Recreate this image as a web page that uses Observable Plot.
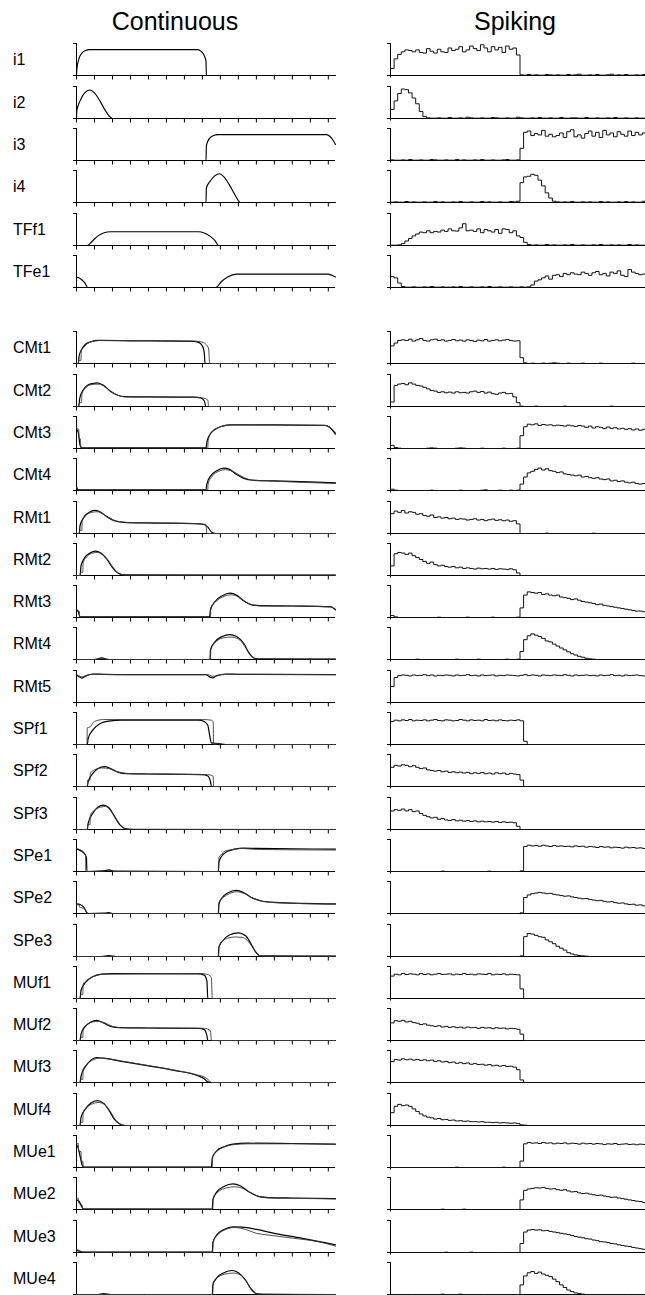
<!DOCTYPE html>
<html><head><meta charset="utf-8">
<script src="https://cdn.jsdelivr.net/npm/d3@7"></script>
<script src="https://cdn.jsdelivr.net/npm/@observablehq/plot@0.6"></script>
<style>
html,body{margin:0;padding:0;background:#fff;}
#fig{position:relative;width:645px;height:1295px;overflow:hidden;font-family:"Liberation Sans",Arial,Helvetica,sans-serif;color:#000;background:#fff}
.title{position:absolute;font-size:25px;line-height:1;text-align:center;width:200px;white-space:nowrap}
.lab{position:absolute;font-size:16px;line-height:1;left:13px;white-space:nowrap}
#fig svg{position:absolute;background:transparent;max-width:none}
</style></head><body><div id="fig"></div>
<script>
// ---------- labels & ticks ----------
const columnTitles = ["Continuous", "Spiking"];
const inputLabels = ["i1","i2","i3","i4","TFf1","TFe1"];
const outputLabels = ["CMt1","CMt2","CMt3","CMt4","RMt1","RMt2","RMt3","RMt4","RMt5","SPf1","SPf2","SPf3","SPe1","SPe2","SPe3","MUf1","MUf2","MUf3","MUf4","MUe1","MUe2","MUe3","MUe4"];
const xTicks = [0,1,2,3,4,5,6,7,8,9,10,11,12,13,14];
const tMax = 14.4;
const binWidth = 0.2;

// ---------- continuous inputs: [time, value] ----------
const c_i1 = [[0,0],[0.02,0.2],[0.15,0.55],[0.3,0.7],[0.5,0.78],[0.7,0.81],[6.7,0.81],[6.9,0.77],[7.05,0.68],[7.15,0.55],[7.2,0.45],[7.22,0],[14.4,0]];
const c_i2 = [[0,0],[0.02,0.25],[0.2,0.55],[0.45,0.8],[0.74,0.89],[1.0,0.8],[1.3,0.55],[1.6,0.25],[1.85,0.06],[2.0,0],[14.4,0]];
const c_i3 = [[0,0],[7.2,0],[7.22,0.45],[7.3,0.6],[7.45,0.72],[7.65,0.79],[7.85,0.81],[13.9,0.81],[14.1,0.75],[14.3,0.6],[14.4,0.5]];
const c_i4 = [[0,0],[7.2,0],[7.22,0.45],[7.45,0.68],[7.7,0.84],[7.94,0.9],[8.2,0.8],[8.5,0.55],[8.8,0.25],[9.0,0.06],[9.1,0],[14.4,0]];
const c_TFf1 = [[0,0],[0.6,0],[0.9,0.15],[1.2,0.3],[1.5,0.39],[1.9,0.43],[6.8,0.43],[7.1,0.39],[7.4,0.3],[7.7,0.15],[7.9,0],[14.4,0]];
const c_TFe1 = [[0,0.32],[0.2,0.28],[0.45,0.15],[0.63,0],[7.75,0],[8.05,0.18],[8.4,0.33],[8.9,0.42],[14.0,0.42],[14.2,0.38],[14.4,0.33]];

// ---------- continuous outputs: two traces each ----------
const cA_CMt1 = [[0,0],[0.1,0],[0.15,0.25],[0.3,0.45],[0.5,0.6],[0.8,0.68],[1.2,0.72],[3,0.71],[6.5,0.69],[6.8,0.66],[7.0,0.55],[7.1,0.35],[7.15,0],[14.4,0]];
const cB_CMt1 = [[0,0],[0.1,0],[0.12,0.1],[0.25,0.1],[0.27,0.42],[0.4,0.5],[0.6,0.62],[1.0,0.7],[1.4,0.72],[6.5,0.7],[6.9,0.68],[7.2,0.6],[7.35,0.45],[7.4,0],[14.4,0]];
const cA_CMt2 = [[0,0],[0.12,0],[0.18,0.25],[0.35,0.5],[0.6,0.66],[0.9,0.72],[1.15,0.74],[1.5,0.66],[1.9,0.47],[2.3,0.35],[2.7,0.31],[4,0.3],[6.5,0.29],[6.9,0.27],[7.1,0.18],[7.2,0],[14.4,0]];
const cB_CMt2 = [[0,0],[0.12,0],[0.14,0.12],[0.28,0.12],[0.3,0.4],[0.5,0.58],[0.8,0.68],[1.2,0.7],[1.5,0.66],[1.9,0.48],[2.3,0.35],[2.7,0.3],[4,0.3],[6.5,0.29],[7.0,0.27],[7.3,0.2],[7.35,0],[14.4,0]];
const cA_CMt3 = [[0,0.6],[0.1,0.5],[0.2,0.1],[0.3,0.02],[7.2,0.02],[7.25,0.2],[7.4,0.42],[7.7,0.6],[8.1,0.7],[8.6,0.74],[10,0.74],[13.8,0.72],[14.1,0.65],[14.4,0.45]];
const cB_CMt3 = [[0,0.65],[0.12,0.6],[0.14,0.3],[0.22,0.3],[0.24,0.02],[7.3,0.02],[7.32,0.25],[7.5,0.5],[7.8,0.62],[8.3,0.72],[8.8,0.74],[13.8,0.72],[14.1,0.66],[14.4,0.5]];
const cA_CMt4 = [[0,0.12],[0.1,0.02],[7.2,0.02],[7.25,0.2],[7.45,0.45],[7.8,0.62],[8.2,0.7],[8.5,0.66],[8.9,0.5],[9.3,0.38],[9.8,0.32],[11,0.3],[14.4,0.24]];
const cB_CMt4 = [[0,0.1],[0.12,0.02],[7.3,0.02],[7.32,0.22],[7.55,0.45],[7.9,0.6],[8.3,0.65],[8.6,0.62],[9.0,0.5],[9.4,0.38],[9.9,0.32],[11,0.29],[14.4,0.22]];
const cA_RMt1 = [[0,0],[0.15,0],[0.2,0.25],[0.4,0.5],[0.7,0.66],[1.0,0.72],[1.3,0.68],[1.7,0.52],[2.1,0.4],[2.6,0.35],[4,0.33],[6.5,0.31],[7.0,0.29],[7.3,0.2],[7.5,0.05],[7.8,0],[14.4,0]];
const cB_RMt1 = [[0,0],[0.15,0],[0.17,0.1],[0.3,0.1],[0.32,0.4],[0.55,0.58],[0.85,0.66],[1.15,0.68],[1.5,0.6],[1.9,0.46],[2.4,0.37],[3,0.34],[6.8,0.31],[7.2,0.28],[7.25,0],[14.4,0]];
const cA_RMt2 = [[0,0],[0.2,0],[0.25,0.3],[0.45,0.55],[0.75,0.7],[1.05,0.76],[1.35,0.7],[1.7,0.5],[2.0,0.25],[2.3,0.08],[2.6,0.02],[14.4,0.01]];
const cB_RMt2 = [[0,0],[0.2,0],[0.22,0.1],[0.35,0.1],[0.37,0.4],[0.6,0.6],[0.9,0.7],[1.15,0.72],[1.45,0.66],[1.8,0.45],[2.1,0.2],[2.4,0.05],[2.7,0.01],[14.4,0.01]];
const cA_RMt3 = [[0,0.25],[0.1,0.18],[0.2,0.02],[7.4,0.02],[7.45,0.25],[7.7,0.5],[8.1,0.68],[8.55,0.76],[8.9,0.7],[9.3,0.52],[9.7,0.4],[10.2,0.37],[12,0.36],[14.1,0.34],[14.4,0.24]];
const cB_RMt3 = [[0,0.2],[0.15,0.2],[0.17,0.02],[7.45,0.02],[7.47,0.3],[7.8,0.52],[8.2,0.66],[8.6,0.71],[9.0,0.64],[9.4,0.48],[9.8,0.39],[10.3,0.36],[12,0.36],[14.1,0.33],[14.4,0.26]];
const cA_RMt4 = [[0,0],[1.0,0],[1.4,0.05],[1.8,0],[7.42,0],[7.45,0.3],[7.7,0.55],[8.1,0.72],[8.5,0.78],[8.9,0.72],[9.3,0.5],[9.6,0.2],[9.9,0.04],[10.3,0.01],[14.4,0.01]];
const cB_RMt4 = [[0,0],[1.0,0],[1.4,0.03],[1.8,0],[7.45,0],[7.47,0.35],[7.8,0.58],[8.2,0.68],[8.6,0.7],[9.0,0.64],[9.35,0.42],[9.65,0.15],[9.95,0.03],[14.4,0.01]];
const cA_RMt5 = [[0,0.86],[0.1,0.82],[0.3,0.76],[0.5,0.82],[0.9,0.89],[1.5,0.88],[3,0.87],[7.2,0.87],[7.4,0.8],[7.55,0.77],[7.8,0.84],[8.3,0.89],[9,0.88],[14.4,0.87]];
const cB_RMt5 = [[0,0.88],[0.1,0.85],[0.3,0.8],[0.5,0.84],[0.9,0.88],[3,0.87],[7.3,0.87],[7.5,0.83],[7.7,0.82],[8.0,0.86],[8.5,0.88],[14.4,0.87]];
const cA_SPf1 = [[0,0],[0.6,0],[0.65,0.2],[0.9,0.45],[1.3,0.65],[1.8,0.73],[2.5,0.76],[6.8,0.76],[7.1,0.72],[7.3,0.6],[7.4,0.3],[7.5,0.05],[7.9,0.03],[8.2,0],[14.4,0]];
const cB_SPf1 = [[0,0],[0.58,0],[0.6,0.52],[0.75,0.55],[1.0,0.72],[1.5,0.78],[7.0,0.78],[7.5,0.76],[7.6,0.7],[7.62,0],[7.9,0.04],[8.3,0],[14.4,0]];
const cA_SPf2 = [[0,0],[0.6,0],[0.65,0.15],[0.9,0.4],[1.2,0.56],[1.55,0.62],[1.9,0.56],[2.3,0.45],[2.8,0.4],[4,0.39],[7.0,0.37],[7.3,0.33],[7.45,0.15],[7.5,0],[14.4,0]];
const cB_SPf2 = [[0,0],[0.6,0],[0.62,0.2],[0.75,0.2],[0.77,0.42],[1.0,0.52],[1.4,0.58],[1.8,0.56],[2.2,0.47],[2.7,0.41],[4,0.39],[7.3,0.37],[7.6,0.32],[7.62,0],[14.4,0]];
const cA_SPf3 = [[0,0],[0.6,0],[0.65,0.2],[0.9,0.5],[1.2,0.7],[1.5,0.76],[1.8,0.68],[2.1,0.42],[2.4,0.15],[2.7,0.03],[3.2,0],[14.4,0]];
const cB_SPf3 = [[0,0],[0.6,0],[0.62,0.15],[0.75,0.15],[0.77,0.45],[1.0,0.6],[1.35,0.7],[1.6,0.72],[1.9,0.6],[2.2,0.35],[2.5,0.1],[2.8,0.01],[14.4,0]];
const cA_SPe1 = [[0,0.7],[0.2,0.66],[0.4,0.58],[0.55,0.45],[0.58,0],[1.5,0.02],[1.8,0.05],[2.1,0.01],[7.88,0],[7.92,0.3],[8.1,0.5],[8.4,0.63],[8.8,0.7],[9.3,0.73],[10,0.72],[14.4,0.7]];
const cB_SPe1 = [[0,0.72],[0.2,0.68],[0.4,0.6],[0.5,0.5],[0.52,0],[1.5,0.01],[1.8,0.04],[2.1,0],[7.9,0],[7.92,0.45],[8.1,0.55],[8.2,0.62],[8.6,0.68],[9.2,0.72],[10,0.69],[14.4,0.67]];
const cA_SPe2 = [[0,0.3],[0.2,0.28],[0.4,0.2],[0.55,0.05],[0.6,0],[1.6,0.01],[1.8,0.03],[2.0,0],[7.88,0],[7.92,0.3],[8.1,0.5],[8.4,0.64],[8.9,0.72],[9.3,0.65],[9.8,0.48],[10.3,0.39],[11,0.35],[14.4,0.3]];
const cB_SPe2 = [[0,0.27],[0.15,0.27],[0.17,0.2],[0.45,0.15],[0.6,0.02],[0.7,0],[7.9,0],[7.92,0.35],[8.2,0.52],[8.5,0.62],[8.9,0.68],[9.3,0.63],[9.8,0.48],[10.3,0.38],[11,0.34],[14.4,0.29]];
const cA_SPe3 = [[0,0],[1.4,0],[1.8,0.03],[2.2,0],[7.88,0],[7.92,0.3],[8.15,0.5],[8.5,0.67],[9.0,0.74],[9.4,0.65],[9.7,0.4],[9.95,0.15],[10.2,0.02],[14.4,0.01]];
const cB_SPe3 = [[0,0],[7.9,0],[7.92,0.3],[8.1,0.48],[8.4,0.57],[8.8,0.61],[9.2,0.6],[9.5,0.5],[9.8,0.28],[10.05,0.08],[10.3,0.01],[14.4,0.01]];
const cA_MUf1 = [[0,0],[0.2,0],[0.25,0.25],[0.5,0.5],[0.9,0.68],[1.4,0.76],[2,0.78],[6.8,0.77],[7.1,0.73],[7.25,0.55],[7.3,0],[14.4,0]];
const cB_MUf1 = [[0,0],[0.2,0],[0.22,0.12],[0.35,0.12],[0.37,0.45],[0.6,0.58],[1.0,0.7],[1.5,0.76],[6.9,0.78],[7.3,0.75],[7.5,0.65],[7.55,0],[14.4,0]];
const cA_MUf2 = [[0,0],[0.2,0],[0.25,0.2],[0.5,0.45],[0.8,0.58],[1.1,0.63],[1.5,0.55],[1.9,0.44],[2.4,0.4],[4,0.39],[6.8,0.38],[7.1,0.34],[7.25,0.15],[7.3,0],[14.4,0]];
const cB_MUf2 = [[0,0],[0.2,0],[0.22,0.1],[0.35,0.1],[0.37,0.38],[0.6,0.5],[0.9,0.58],[1.2,0.6],[1.6,0.54],[2.0,0.44],[2.5,0.4],[4,0.39],[7.1,0.38],[7.45,0.3],[7.5,0],[14.4,0]];
const cA_MUf3 = [[0,0],[0.2,0],[0.25,0.2],[0.5,0.5],[0.8,0.7],[1.1,0.78],[1.5,0.76],[2.5,0.66],[4,0.52],[5.5,0.37],[6.7,0.22],[7.1,0.12],[7.3,0.02],[7.5,0],[14.4,0]];
const cB_MUf3 = [[0,0],[0.2,0],[0.22,0.1],[0.35,0.1],[0.37,0.4],[0.6,0.58],[0.9,0.7],[1.3,0.76],[1.8,0.74],[2.5,0.67],[4,0.53],[5.5,0.38],[6.7,0.24],[7.2,0.14],[7.4,0.05],[7.5,0],[14.4,0]];
const cA_MUf4 = [[0,0],[0.2,0],[0.25,0.25],[0.5,0.52],[0.8,0.7],[1.15,0.78],[1.5,0.7],[1.8,0.48],[2.1,0.2],[2.4,0.05],[2.7,0],[14.4,0]];
const cB_MUf4 = [[0,0],[0.2,0],[0.22,0.1],[0.35,0.1],[0.37,0.42],[0.6,0.58],[0.9,0.68],[1.2,0.72],[1.55,0.66],[1.9,0.42],[2.2,0.15],[2.5,0.03],[2.8,0],[14.4,0]];
const cA_MUe1 = [[0,0.72],[0.1,0.6],[0.2,0.35],[0.3,0.1],[0.4,0.01],[7.5,0.01],[7.55,0.3],[7.8,0.52],[8.2,0.65],[8.7,0.73],[9.5,0.76],[12,0.75],[14.4,0.73]];
const cB_MUe1 = [[0,0.75],[0.1,0.75],[0.12,0.5],[0.25,0.5],[0.27,0.2],[0.35,0.2],[0.37,0.01],[7.55,0.01],[7.57,0.35],[7.9,0.55],[8.3,0.66],[8.8,0.72],[9.6,0.74],[12,0.74],[14.4,0.72]];
const cA_MUe2 = [[0,0.3],[0.15,0.25],[0.3,0.08],[0.4,0.01],[7.55,0.01],[7.58,0.3],[7.8,0.55],[8.2,0.72],[8.7,0.8],[9.1,0.74],[9.6,0.55],[10.1,0.41],[10.7,0.37],[12,0.36],[14.4,0.34]];
const cB_MUe2 = [[0,0.35],[0.1,0.35],[0.12,0.2],[0.3,0.15],[0.35,0.02],[7.57,0.01],[7.6,0.35],[7.9,0.56],[8.3,0.67],[8.8,0.71],[9.2,0.67],[9.7,0.52],[10.2,0.4],[10.8,0.36],[12,0.35],[14.4,0.33]];
const cA_MUe3 = [[0,0.08],[0.2,0.03],[0.4,0.01],[7.55,0.01],[7.58,0.3],[7.8,0.55],[8.2,0.72],[8.7,0.8],[9.2,0.79],[10,0.72],[11,0.6],[12.5,0.45],[14.4,0.24]];
const cB_MUe3 = [[0,0.1],[0.2,0.05],[0.4,0.01],[7.57,0.01],[7.6,0.35],[7.9,0.58],[8.3,0.72],[8.8,0.78],[9.4,0.72],[10,0.6],[10.6,0.55],[12,0.45],[13.5,0.33],[14.4,0.2]];
const cA_MUe4 = [[0,0],[1.2,0],[1.5,0.03],[1.9,0],[7.55,0],[7.58,0.3],[7.8,0.52],[8.2,0.68],[8.65,0.75],[9.0,0.68],[9.4,0.45],[9.7,0.18],[10.0,0.03],[10.4,0],[14.4,0]];
const cB_MUe4 = [[0,0],[7.57,0],[7.6,0.38],[7.9,0.56],[8.3,0.64],[8.7,0.67],[9.1,0.62],[9.45,0.4],[9.75,0.12],[10.05,0.02],[14.4,0]];

// ---------- spiking histograms: 72 bins of 0.2 (percent of full scale) ----------
const s_i1 = [22,52,66,74,80,78,74,80,72,70,84,76,70,82,74,72,86,78,82,90,74,80,92,84,78,96,86,74,90,80,88,72,92,82,86,64,2,1,3,1,2,1,1,3,2,1,2,1,1,3,1,2,4,1,1,2,1,3,1,1,2,4,1,2,1,3,1,1,2,1,3,1];
const s_i2 = [28,55,78,92,90,80,64,46,22,6,2,1,1,2,1,1,3,1,1,2,1,4,2,1,1,2,1,1,3,2,1,1,2,1,1,4,2,1,1,2,1,3,1,1,2,1,1,3,1,1,2,2,1,1,3,1,1,2,1,1,2,1,3,1,1,2,1,1,2,1,1,2];
const s_i3 = [2,1,1,2,1,3,1,1,2,1,1,3,2,1,1,2,1,1,3,1,2,1,1,2,1,3,1,1,2,1,1,2,3,1,1,2,38,88,92,78,84,80,94,76,82,74,78,86,72,90,96,74,80,70,84,92,76,88,72,94,80,86,74,90,82,76,92,78,88,80,86,76];
const s_i4 = [1,2,1,1,3,1,2,1,1,2,1,1,3,1,2,1,1,2,1,3,1,1,2,1,1,3,1,2,1,1,2,1,1,3,2,4,62,80,82,88,85,70,52,30,14,4,2,1,2,1,3,1,1,2,1,2,1,1,3,1,2,1,1,2,1,3,1,2,1,1,4,2];
const s_TFf1 = [1,1,2,6,14,22,30,36,42,40,46,40,44,42,48,44,52,46,45,55,68,46,48,44,52,40,50,46,42,50,38,52,50,40,46,30,25,10,3,1,2,1,1,3,1,2,1,1,2,1,3,1,1,2,1,1,2,1,3,1,1,2,1,2,1,1,3,1,2,1,1,2];
const s_TFe1 = [34,30,14,3,1,1,2,1,1,2,1,3,1,1,2,1,1,2,1,3,1,1,2,1,1,2,1,3,1,1,2,1,1,2,1,1,2,1,2,8,20,24,30,36,26,38,40,34,44,40,46,42,40,48,44,38,46,50,40,44,36,48,44,52,38,34,56,48,44,40,42,36];
const s_CMt1 = [55,64,72,74,72,76,70,74,78,72,70,74,76,72,74,70,72,75,71,73,70,74,72,69,73,71,75,70,72,74,71,73,75,72,70,71,18,2,0,1,0,0,1,0,1,2,1,0,0,1,0,0,0,1,0,0,0,0,1,0,0,0,0,0,0,0,0,1,0,0,0,0];
const s_CMt2 = [14,66,70,72,68,74,70,66,64,60,55,50,48,44,46,43,45,42,46,43,44,42,46,48,44,47,42,45,40,38,42,44,40,41,30,12,1,0,0,0,1,0,0,0,0,0,0,0,1,0,0,0,0,0,0,0,0,0,0,0,0,1,0,0,0,0,0,0,0,0,0,0];
const s_CMt3 = [10,3,1,0,0,0,0,0,0,0,1,2,1,0,0,0,0,0,1,2,1,0,0,0,0,1,0,0,0,0,0,1,0,0,0,1,40,68,76,74,77,72,75,73,74,71,73,72,70,73,71,69,72,70,66,70,64,68,66,62,67,63,65,61,63,60,62,58,61,57,60,55];
const s_CMt4 = [4,1,0,0,0,0,0,0,0,0,0,1,0,0,0,0,0,0,0,1,0,0,0,0,0,1,2,0,0,0,1,0,0,1,0,1,20,42,55,60,66,70,64,68,62,60,56,58,52,50,48,46,48,42,44,40,38,40,36,34,36,30,32,28,30,26,24,26,22,20,22,18];
const s_RMt1 = [62,70,66,72,64,68,66,60,62,56,54,58,50,52,48,50,46,48,44,46,45,42,44,46,42,44,40,43,45,41,43,40,42,38,40,30,0,0,0,0,0,0,0,1,0,0,0,0,0,0,0,0,0,0,0,0,1,0,0,0,0,0,0,0,0,0,0,0,0,0,0,0];
const s_RMt2 = [30,68,72,70,66,70,62,56,50,44,38,42,34,30,32,28,26,28,24,26,22,24,22,20,23,21,22,20,22,19,21,20,19,21,18,8,0,0,0,0,0,0,0,0,0,0,0,0,0,0,0,0,0,0,0,0,0,0,0,0,0,0,0,0,0,0,0,0,0,0,0,0];
const s_RMt3 = [6,2,0,0,0,0,0,0,0,0,0,0,0,1,0,0,0,0,0,0,0,1,0,0,0,0,0,0,1,0,0,0,0,0,0,1,30,70,80,78,76,78,72,74,70,68,70,64,62,60,56,58,54,50,48,46,44,40,42,38,36,34,32,30,28,26,24,22,20,20,18,16];
const s_RMt4 = [0,0,0,0,0,0,0,1,0,0,0,0,0,0,0,0,0,0,1,0,0,0,0,0,1,0,0,0,0,0,0,0,1,0,0,1,25,62,74,80,76,72,66,58,55,48,42,36,30,24,18,14,10,7,4,2,1,0,0,0,0,0,0,0,0,0,0,0,0,0,0,0];
const s_RMt5 = [50,78,84,86,85,83,86,84,85,87,84,86,83,85,84,86,85,83,86,84,85,87,84,85,83,86,84,85,86,83,85,84,86,85,84,83,85,87,84,86,85,83,86,85,84,86,85,84,87,85,83,86,84,85,86,84,85,83,86,84,85,87,84,85,83,86,84,85,86,84,83,85];
const s_SPf1 = [72,76,74,77,75,78,74,76,75,77,74,76,78,75,74,77,76,74,75,78,76,74,77,75,76,74,78,75,76,74,77,75,74,76,75,77,74,10,0,0,0,0,0,0,0,0,0,0,0,0,0,0,0,0,0,0,0,0,0,0,0,0,0,0,0,0,0,0,0,0,0,0];
const s_SPf2 = [60,66,64,68,66,62,65,60,56,58,52,50,48,50,46,48,44,46,43,45,42,44,40,43,41,44,40,42,39,43,40,42,38,41,39,37,20,0,0,0,0,0,0,0,0,0,0,0,0,0,0,0,0,0,0,0,0,0,0,0,0,0,0,0,0,0,0,0,0,0,0,0];
const s_SPf3 = [58,62,60,64,58,62,56,58,50,44,40,36,38,32,34,30,28,31,27,29,26,28,25,27,24,26,24,25,23,25,22,24,22,23,21,10,0,0,0,0,0,0,0,0,0,0,0,0,0,0,0,0,0,0,0,0,0,0,0,0,0,0,0,0,0,0,0,0,0,0,0,0];
const s_SPe1 = [0,0,0,0,0,0,0,0,0,0,0,0,0,0,1,0,0,0,0,0,0,0,0,0,0,0,0,1,0,0,0,0,0,0,0,0,2,78,82,80,81,79,82,80,78,81,79,80,78,79,77,80,78,79,76,78,77,75,78,76,77,74,76,75,73,76,74,75,73,74,72,73];
const s_SPe2 = [0,0,0,0,0,0,0,0,0,0,0,0,0,0,0,0,0,0,0,0,0,0,0,0,0,0,0,0,0,0,0,0,0,0,0,0,2,50,58,62,64,66,64,62,63,60,58,56,54,55,52,50,48,46,47,44,42,40,41,38,36,37,34,32,33,30,28,29,26,27,24,22];
const s_SPe3 = [0,0,0,0,0,0,0,0,0,0,0,0,0,0,0,0,0,0,0,0,0,0,0,0,0,0,0,0,0,0,0,0,0,0,0,0,2,62,72,70,66,62,60,52,46,40,32,26,20,12,8,5,3,2,1,0,0,0,0,0,0,0,0,0,0,0,0,0,0,0,0,0];
const s_MUf1 = [70,76,74,78,75,77,76,74,78,75,77,74,76,78,75,76,77,74,76,75,78,75,76,74,77,76,75,78,74,76,75,77,74,76,75,74,30,0,0,0,0,0,0,0,0,0,0,0,0,0,0,0,0,0,0,0,0,0,0,0,0,0,0,0,0,0,0,0,0,0,0,0];
const s_MUf2 = [55,62,60,63,58,60,56,54,50,52,48,46,44,46,42,44,41,43,40,42,39,42,40,41,38,41,39,40,37,40,38,39,36,38,37,35,20,0,0,0,0,0,0,0,0,0,0,0,0,0,0,0,0,0,0,0,0,0,0,0,0,0,0,0,0,0,0,0,0,0,0,0];
const s_MUf3 = [65,72,70,74,71,73,70,72,69,71,68,70,66,68,64,66,62,64,60,62,59,61,57,59,56,57,54,56,52,54,51,53,50,51,48,40,8,0,0,0,0,0,0,0,0,0,0,0,0,0,0,0,0,0,0,0,0,0,0,0,0,0,0,0,0,0,0,0,0,0,0,0];
const s_MUf4 = [40,60,66,62,64,60,52,44,36,30,26,24,20,22,18,19,16,17,14,15,13,14,12,12,11,12,10,10,9,10,8,9,8,7,8,6,2,1,0,0,0,0,0,0,0,0,0,0,0,0,0,0,0,0,0,0,0,0,0,0,0,0,0,0,0,0,0,0,0,0,0,0];
const s_MUe1 = [0,0,0,0,0,0,0,0,0,0,0,0,0,0,0,0,0,0,1,0,0,0,0,0,0,0,0,0,0,0,0,1,0,0,0,0,20,74,78,76,77,75,78,76,77,74,76,75,77,74,76,75,73,76,74,75,73,75,74,72,74,73,75,72,73,74,72,73,71,73,72,70];
const s_MUe2 = [0,0,0,0,0,0,0,0,0,0,0,0,0,0,1,0,0,0,0,0,1,0,0,0,0,0,0,0,0,0,0,0,0,0,0,0,30,60,64,66,68,67,69,66,64,65,62,60,62,58,55,56,52,50,51,48,46,44,45,42,40,38,39,36,34,32,30,28,26,25,22,18];
const s_MUe3 = [0,0,0,0,0,0,0,0,0,0,0,0,0,0,0,1,0,0,0,0,0,0,1,0,0,0,0,0,0,0,0,0,0,0,0,0,28,64,70,72,70,71,68,69,66,64,62,60,58,56,53,50,48,46,43,42,39,37,34,33,31,28,27,24,22,20,19,16,14,12,10,9];
const s_MUe4 = [0,0,0,0,0,0,0,0,0,0,0,0,0,0,1,0,0,0,0,1,0,0,0,0,0,0,0,0,0,0,0,0,0,0,0,0,30,58,68,72,66,70,64,60,56,48,40,30,22,14,9,5,3,1,0,0,0,0,0,0,0,0,0,0,0,0,0,0,0,0,0,0];

// ---------- tables built from the arrays ----------
const inputCont = [[c_i1],[c_i2],[c_i3],[c_i4],[c_TFf1],[c_TFe1]];
const inputSpk = [s_i1,s_i2,s_i3,s_i4,s_TFf1,s_TFe1];
const outputCont = [[cA_CMt1,cB_CMt1],[cA_CMt2,cB_CMt2],[cA_CMt3,cB_CMt3],[cA_CMt4,cB_CMt4],[cA_RMt1,cB_RMt1],[cA_RMt2,cB_RMt2],[cA_RMt3,cB_RMt3],[cA_RMt4,cB_RMt4],[cA_RMt5,cB_RMt5],[cA_SPf1,cB_SPf1],[cA_SPf2,cB_SPf2],[cA_SPf3,cB_SPf3],[cA_SPe1,cB_SPe1],[cA_SPe2,cB_SPe2],[cA_SPe3,cB_SPe3],[cA_MUf1,cB_MUf1],[cA_MUf2,cB_MUf2],[cA_MUf3,cB_MUf3],[cA_MUf4,cB_MUf4],[cA_MUe1,cB_MUe1],[cA_MUe2,cB_MUe2],[cA_MUe3,cB_MUe3],[cA_MUe4,cB_MUe4]];
const outputSpk = [s_CMt1,s_CMt2,s_CMt3,s_CMt4,s_RMt1,s_RMt2,s_RMt3,s_RMt4,s_RMt5,s_SPf1,s_SPf2,s_SPf3,s_SPe1,s_SPe2,s_SPe3,s_MUf1,s_MUf2,s_MUf3,s_MUf4,s_MUe1,s_MUe2,s_MUe3,s_MUe4];

// ---------- layout ----------
const fig = document.getElementById("fig");
const PH = 32, MT = 2, MB = 6, ML = 6, MR = 4, PW = 259;
const leftAxisX = 76, rightAxisX = 390;

function addDiv(cls, text, left, top) {
  const d = document.createElement("div");
  d.className = cls; d.textContent = text;
  d.style.left = left + "px"; d.style.top = top + "px";
  fig.appendChild(d);
}
function place(svg, axisX, baseline) {
  svg.style.left = (axisX - ML) + "px";
  svg.style.top = (baseline - PH - MT) + "px";
  fig.appendChild(svg);
}
function contPanel(series, baseline) {
  const styles = series.length === 1
    ? [{stroke: "#000", strokeWidth: 1.15}]
    : [{stroke: "#000", strokeWidth: 1.2}, {stroke: "#3a3a3a", strokeWidth: 0.9}];
  const svg = Plot.plot({
    width: ML + PW + MR, height: MT + PH + MB,
    marginLeft: ML, marginRight: MR, marginTop: MT, marginBottom: MB,
    style: {background: "transparent", overflow: "visible"},
    x: {domain: [0, tMax], ticks: xTicks, tickSize: 4.5, tickFormat: () => "", label: null},
    y: {domain: [0, 1], ticks: [0, 1], tickSize: 3, tickFormat: () => "", label: null},
    marks: [
      Plot.ruleY([0], {stroke: "#000"}),
      Plot.ruleX([0], {stroke: "#000"}),
      ...series.map((s, j) => Plot.line(s, {x: d => d[0], y: d => d[1], curve: "monotone-x", ...styles[j]}))
    ]
  });
  place(svg, leftAxisX, baseline);
}
function spkPanel(vals, baseline) {
  const pts = vals.map((v, i) => [i * binWidth, v]);
  pts.push([tMax, vals[vals.length - 1]]);
  const svg = Plot.plot({
    width: ML + PW + MR, height: MT + PH + MB,
    marginLeft: ML, marginRight: MR, marginTop: MT, marginBottom: MB,
    style: {background: "transparent", overflow: "visible"},
    x: {domain: [0, tMax], ticks: [0], tickSize: 2.5, tickFormat: () => "", label: null},
    y: {domain: [0, 100], ticks: [0, 100], tickSize: 3, tickFormat: () => "", label: null},
    marks: [
      Plot.ruleY([0], {stroke: "#000"}),
      Plot.ruleX([0], {stroke: "#000"}),
      Plot.line(pts, {x: d => d[0], y: d => d[1], curve: "step-after", stroke: "#111", strokeWidth: 1})
    ]
  });
  place(svg, rightAxisX, baseline);
}

// titles
addDiv("title", columnTitles[0], 175 - 100, 9);
addDiv("title", columnTitles[1], 515 - 100, 9);

const topBase0 = 75.3, pitch = 42.3, botBase0 = 363.3;
inputLabels.forEach((lab, k) => {
  const b = Math.round(topBase0 + pitch * k);
  addDiv("lab", lab, 13, b - 23);
  contPanel(inputCont[k], b);
  spkPanel(inputSpk[k], b);
});
outputLabels.forEach((lab, k) => {
  const b = Math.round(botBase0 + pitch * k);
  addDiv("lab", lab, 13, b - 23);
  contPanel(outputCont[k], b);
  spkPanel(outputSpk[k], b);
});
</script></body></html>
